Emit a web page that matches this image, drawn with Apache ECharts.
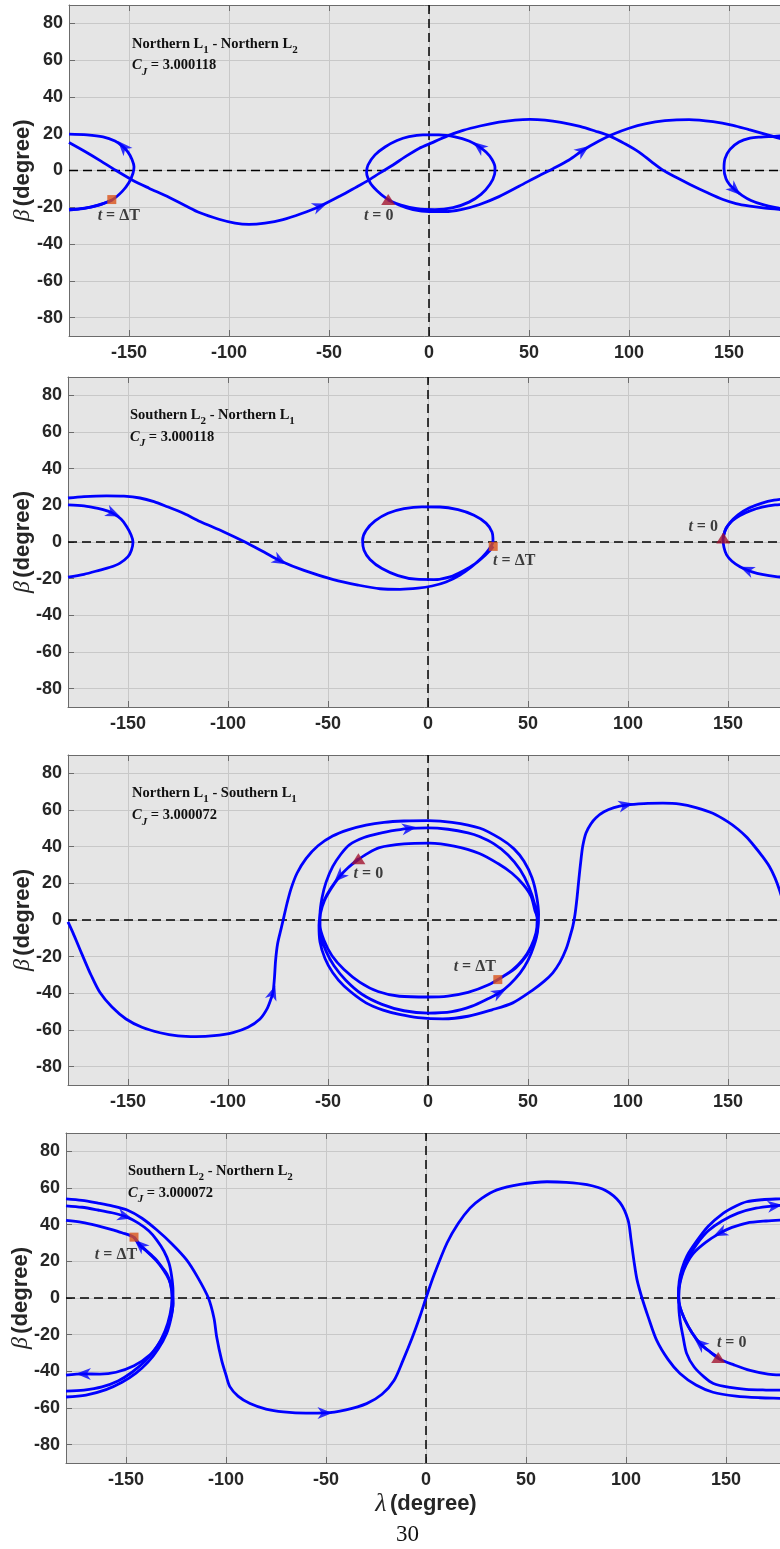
<!DOCTYPE html>
<html><head><meta charset="utf-8">
<script src="https://cdn.jsdelivr.net/npm/echarts@6/dist/echarts.min.js"></script>
<style>html,body{margin:0;padding:0;background:#fff}#c{width:780px;height:1549px}</style>
</head><body><div id="c"></div>
<script>
// ---------- tick labels ----------
const xTicks = [-150, -100, -50, 0, 50, 100, 150];
const yTicks = [-80, -60, -40, -20, 0, 20, 40, 60, 80];

// ---------- panel titles ----------
const titles = [
  ['Northern L', '1', ' - Northern L', '2', '3.000118'],
  ['Southern L', '2', ' - Northern L', '1', '3.000118'],
  ['Northern L', '1', ' - Southern L', '1', '3.000072'],
  ['Southern L', '2', ' - Northern L', '2', '3.000072']
];

// ---------- Panel 1 : trajectory pieces (lambda, beta) in travel order ----------
const p1A = [[-20.5,-16],[-14,-18.8],[-6,-20.8],[3,-21.3],[12,-20.2],[20,-17.2],[26,-13],[30.5,-7.5],[32.8,-2],[33,1.5],[31.5,6],[28.5,10],[25,13],[20,16],[13,18.3],[5,19.4],[-3,19.4],[-10,18.4],[-16,16.3],[-22,12.8],[-27,8.5],[-30.5,3],[-31.2,-1],[-29.5,-6.5],[-26,-11],[-21.5,-15],[-15,-18.8],[-8,-21.3],[0,-22.4],[8,-22.4],[16,-21.3],[25,-18.6],[35,-14.2],[45,-8.6],[55,-2.8],[62,1],[70,5.7],[77,11],[85,16],[92,19.7],[100,23],[108,25.4],[118,27.1],[130,27.7],[142,26.6],[152,24.6],[160,22.2],[168,19.8],[175.5,17.4],[180,15.5]];
const p1B = [[-180,15.2],[-172,10.3],[-164,5.1],[-158,1],[-148,-5.4],[-140,-9.6],[-131,-14],[-122,-19],[-114.5,-23],[-105,-26.5],[-97,-28.6],[-90,-29.3],[-82,-28.6],[-73,-26.7],[-64,-23.5],[-54.5,-19.4],[-44,-13.6],[-36,-8.8],[-31,-5.8],[-24.5,-1.3],[-18,3],[-12,7.4],[-5,12],[2,15.3],[9,18.7],[17,21.8],[25.5,24.2],[35,26.3],[43,27.4],[50.5,27.8],[58,27.4],[66,26.2],[75.5,24],[83,21.5],[90.5,18.7],[98,14.5],[105,10],[111,5],[117,0.2],[124,-4],[130.5,-7.6],[139,-12],[147,-15.8],[153.5,-18],[160.5,-19.4],[168,-20.5],[175.5,-21.2],[180,-21.5]];
const p1C = [[-180,-21.5],[-173,-20.7],[-166,-19],[-158.5,-16],[-153.5,-11.5],[-150,-6.5],[-148,-1.5],[-147.5,2],[-148.5,6],[-150.5,10],[-153,13],[-157,16],[-163,18.3],[-171,19.4],[-180,19.8]];
const p1D = [[180,19.2],[173,18.6],[166,18.2],[160.5,17.6],[155,15.5],[150.5,11.5],[148,6.5],[147.5,1],[148.5,-4.5],[150.5,-8],[153,-10.5],[156.5,-13.5],[161,-16.3],[167,-18.6],[173.5,-20.2],[180,-21.3]];
const p1E = [[-180,-21.2],[-172,-20.5],[-165,-18.8],[-158.5,-16]];
const p1Arrows = [['A',25,13],['A',77,11],['B',-54.5,-19.4],['C',-153,13],['D',153,-10.5]];
const p1Start = [-20.4,-15.8];
const p1End = [-158.6,-15.8];

// ---------- Panel 2 ----------
const p2A = [[147.6,2.2],[149,7.5],[152,11.5],[156,14.5],[161,17],[167,19],[173.5,20.2],[180,20.6]];
const p2B = [[-180,20.3],[-172,19.7],[-165,18.3],[-160,16.8],[-157.3,15.5],[-153.5,12.5],[-150.7,8.5],[-148.5,4],[-147.5,0],[-148.3,-4.5],[-150,-8],[-154,-11.5],[-159,-13.8],[-164,-15.3],[-172,-17.6],[-180,-19.1]];
const p2C = [[180,-19.3],[174,-18.9],[167,-17.7],[162,-16.3],[159.3,-15.1],[156,-13.5],[152,-10.5],[149.3,-7],[148,-3],[147.5,1.5],[148.5,6],[151,10.5],[155,14.8],[160.5,18.5],[167,21.2],[173,22.8],[180,23.8]];
const p2D = [[-180,24],[-172,24.8],[-160.7,25.2],[-152,25],[-144,24],[-137,22],[-130.7,19.4],[-122,15.5],[-114,11.2],[-102,5.5],[-91.5,0],[-82,-5.5],[-74,-10.2],[-62,-15.5],[-47.3,-20.5],[-35,-23.5],[-24,-25.5],[-14,-25.8],[-5,-25.2],[2,-24],[9,-21.8],[16,-18],[22,-13.3],[27,-8.5],[30.5,-4],[32.5,0.5],[32,5.5],[29,10.3],[23,14.6],[15,17.6],[6,19.1],[-3,19.2],[-12,18.2],[-20,15.7],[-26.5,11.5],[-31,6.3],[-32.7,1],[-32,-4.5],[-29,-9.5],[-23,-14.5],[-15,-18.3],[-6,-20.3],[3,-20.5],[11,-19],[18,-15.5],[24,-11.5],[28.5,-7.3],[31.5,-4],[32.6,-2.4]];
const p2Arrows = [['B',-157.3,15.5],['C',159.3,-15.1],['D',-74,-10.2]];
const p2Start = [147.6,2.2];
const p2End = [32.6,-2.4];

// ---------- Panel 3 ----------
const p3A = [[-34.8,33.4],[-40,28.5],[-44.3,23.7],[-48.5,17.5],[-51.8,11],[-53.8,4],[-54.3,-2],[-53.5,-9],[-51,-17],[-47,-25],[-41,-33],[-33,-40.5],[-23,-46],[-12,-49.5],[0,-50.8],[12,-50],[22,-47],[30,-43],[35.7,-39.7],[41,-35],[46,-29],[50,-22],[53,-14],[54.8,-6],[55,0],[53.5,5],[51.5,13],[47.5,19.5],[42,25.5],[35,30.8],[25.7,36.3],[13,40.3],[0.7,41.9],[-12,41.5],[-24.3,39.5],[-31,35.8],[-35,32.8],[-40,28.5],[-44.3,23.5],[-48.5,17],[-51.8,10.5],[-53.8,3.5],[-54.5,-3],[-54,-12],[-51.5,-21],[-47.6,-28.8],[-42,-36],[-31,-45.2],[-22,-49.3],[-14.3,-51.5],[-5,-53.2],[7.4,-53.9],[20,-52.5],[32,-49],[42.4,-45.2],[52,-38.5],[58,-33.5],[62.4,-28.8],[66,-23],[69,-16],[71,-9],[72.4,-3.5],[73.5,3],[74.5,12],[75.5,23],[76.5,33],[77.4,40.5],[79,47.5],[81.5,52.5],[84,55.8],[88,59],[93,61.3],[99,62.7],[108,63.5],[117.4,63.7],[126,63.2],[134,61.3],[142.4,58.2],[150,53.5],[155,49.5],[159,45.5],[163,40.5],[167,35],[170.7,29.2],[173.5,23],[175.7,16.5],[177.8,9],[179,4],[180,0]];
const p3B = [[-180,-1],[-177.5,-7],[-175,-13.5],[-172.5,-20],[-168.5,-30],[-164,-39.6],[-158,-47.5],[-151,-54],[-143,-58.5],[-134,-61.5],[-125,-63.2],[-116,-63.6],[-107,-63.1],[-97.5,-61.4],[-90,-58.5],[-84,-54],[-80.5,-48.5],[-78.5,-43],[-77.5,-39.6],[-76.8,-32],[-76.2,-22],[-75.2,-13],[-73.5,-5],[-72,2],[-70.5,9],[-68.5,17],[-65.5,25.5],[-61,33.5],[-55,40.5],[-47.7,45.8],[-40,49.2],[-31,51.8],[-22,53.3],[-12,54],[0,54.2],[12,53.3],[25.7,50.2],[36,44.5],[43,38.8],[48,32],[52,23],[54.3,13],[55.3,3],[54.8,-5],[53,-12],[49.5,-19],[44,-26],[38,-30.5],[30,-35.5],[20,-39.5],[10,-41.5],[0,-42],[-14.3,-41.6],[-25,-39],[-34,-34],[-42,-27],[-48,-19.5],[-52,-11],[-54,-3],[-54,3],[-53,12],[-51,20.5],[-47.6,29.2],[-43.5,36],[-39.3,41],[-32,45],[-24.3,47.3],[-16,49],[-9.3,50],[0,50.3],[10,49.5],[20,47.5],[25.7,45.5],[33,41.5],[40,35.5],[46,27.5],[50.5,18],[53.5,8],[54.6,0],[54,-7],[51.5,-14.5],[47.5,-21.5],[42,-27.5],[34.9,-32.5]];
const p3Arrows = [['A',-44.3,23.7],['A',35.7,-39.7],['A',99,62.7],['B',-77.5,-39.6],['B',-9.3,50]];
const p3Start = [-34.8,33.4];
const p3End = [34.9,-32.5];

// ---------- Panel 4 ----------
const p4A = [[146.1,-32.4],[141,-28.5],[137,-24.8],[133,-19],[129.5,-12],[127,-5],[126.3,1],[126.8,8],[128.5,15],[131.5,22.5],[135.5,29.5],[141,36.5],[148,42],[156,46.3],[165,49],[174.5,50.3],[180,50.7]];
const p4B = [[-180,50.3],[-172,49.5],[-164,48],[-157,46.5],[-150.5,44.5],[-144,41],[-138.5,36.5],[-134.7,31.7],[-131,25.5],[-128.5,19],[-127.2,12],[-126.5,4],[-126.5,-3],[-127.5,-10],[-129.7,-17],[-133,-24],[-138,-31],[-146,-37],[-155,-40.5],[-163,-41.5],[-171.3,-41.4],[-180,-42.1]];
const p4C = [[180,-42.1],[171,-41.5],[162,-39.5],[154,-36.5],[147,-33.4],[141,-28.5],[137,-24.8],[133,-19],[129.5,-12],[127,-5],[126.2,1],[126.6,9],[128,16],[130.5,23],[135.3,31],[141,39],[148.7,46.3],[155,50.2],[160.3,52.5],[168,53.6],[177,54.1],[180,54.2]];
const p4D = [[-180,54.1],[-172,53.3],[-164,51.8],[-157,50.3],[-149.7,48.1],[-142,43.5],[-134.7,37.2],[-127,29.5],[-119.7,20.8],[-114,11],[-108.8,0],[-106,-11],[-104.7,-21],[-102.2,-33.9],[-100,-42],[-98,-48.5],[-94,-53.5],[-88,-57.6],[-80,-60.6],[-71.3,-62.1],[-60,-62.8],[-50.5,-62.7],[-40,-61],[-29.7,-57.6],[-22,-52.5],[-16,-45],[-11.5,-34],[-7,-22],[-3,-10],[0,0],[4,12.5],[10.5,30],[16,40.5],[22,49],[28,54.5],[35.5,59],[47,62],[60.5,63.4],[70,63.1],[80.5,61.8],[90,58.5],[97,52],[101,42.6],[102.5,32],[104,20],[105.5,10],[108,0],[111,-10],[115.3,-23],[121,-33.5],[127,-41.2],[135,-47.5],[143.5,-51.4],[155,-53.5],[167,-54.4],[177,-54.7],[180,-54.8]];
const p4E = [[-180,-54],[-170,-53],[-160,-50],[-152,-46],[-145,-41],[-139,-35],[-134,-28],[-129.7,-19.3],[-127.5,-11],[-126.5,-3],[-127,4],[-128.5,10],[-131.3,15.3],[-135,20.5],[-140,25.8],[-143,28.5],[-146,33],[-152,35.6],[-158,37.6],[-165,39.6],[-172,41.2],[-180,42.3]];
const p4F = [[180,42.6],[170,42],[160.3,40.9],[153,38.5],[147,35.4],[140,30.5],[133.7,24.4],[130,18],[127.8,11.7],[126.5,4],[126.4,-4],[127,-12],[128.5,-21],[130.3,-30.2],[134,-37.5],[139,-43],[143.7,-46.6],[152,-48.8],[160,-49.8],[170,-50.2],[177,-50.3],[180,-50.4]];
const p4G = [[-180,-50.8],[-171,-50.2],[-162,-48.5],[-154,-45.3],[-147,-40.5],[-140,-34],[-134.5,-26.5],[-130.5,-18],[-128,-9],[-127,0],[-127.8,8],[-129.5,13],[-131.8,16.5],[-135.5,21.5],[-140,26],[-143,29],[-146,33.2]];
const p4Arrows = [['A',174.5,50.3],['B',-150.5,44.5],['B',-171.3,-41.4],['C',137,-24.8],['F',147,35.4],['D',-50.5,-62.7],['G',-143,29]];
const p4Start = [146.1,-32.4];
const p4End = [-146,33.2];

// ---------- layout ----------
const grids = [
  {left: 69, top: 5, width: 720, height: 331},
  {left: 68, top: 377, width: 720, height: 330},
  {left: 68, top: 755, width: 720, height: 330},
  {left: 66, top: 1133, width: 720, height: 330}
];
const panels = [
  {strands: {A: p1A, B: p1B, C: p1C, D: p1D, E: p1E}, arrows: p1Arrows, start: p1Start, end: p1End,
   startOff: [-9.5, 16], endOff: [7, 16], title: [132, 48.3, 70], nameGap: 34},
  {strands: {A: p2A, B: p2B, C: p2C, D: p2D}, arrows: p2Arrows, start: p2Start, end: p2End,
   startOff: [-20, -11], endOff: [21, 14], title: [130, 419.3, 441.7], nameGap: 33},
  {strands: {A: p3A, B: p3B}, arrows: p3Arrows, start: p3Start, end: p3End,
   startOff: [10, 15], endOff: [-23, -12.5], title: [132, 797.3, 820], nameGap: 33},
  {strands: {A: p4A, B: p4B, C: p4C, D: p4D, E: p4E, F: p4F, G: p4G}, arrows: p4Arrows, start: p4Start, end: p4End,
   startOff: [13.5, -15], endOff: [-18, 18], title: [128, 1175.7, 1197.3], nameGap: 33}
];

const SANS = '"Liberation Sans", Arial, Helvetica, sans-serif';
const SERIF = '"Liberation Serif", "Times New Roman", serif';
const AXC = '#6b6b6b';
const TXT = '#262626';
const ARROW = 'path://M14,6 L0,0 L4,6 L0,12 Z';

const xAxes = [], yAxes = [], series = [], graphics = [];
const mctx = document.createElement('canvas').getContext('2d');

// place a run of text pieces on one baseline; each piece: [text, font, fontSize, baselineShift]
function textRun(x0, baseline, pieces) {
  let x = x0;
  pieces.forEach(p => {
    mctx.font = p[1];
    const w = mctx.measureText(p[0]).width;
    graphics.push({type: 'text', x: x, y: baseline + p[3] - 0.3 * p[2], z: 10, silent: true,
      style: {text: p[0], font: p[1], fill: '#111', align: 'left', verticalAlign: 'middle'}});
    x += w;
  });
}

function arrowAngle(strand, ax, ay, g) {
  const sx = g.width / 360, sy = g.height / 180;
  let best = Infinity, ang = 0;
  for (let i = 0; i < strand.length - 1; i++) {
    const p = strand[i], q = strand[i + 1];
    const px = (p[0] - ax) * sx, py = (p[1] - ay) * sy;
    const qx = (q[0] - ax) * sx, qy = (q[1] - ay) * sy;
    const dx = qx - px, dy = qy - py;
    const L2 = dx * dx + dy * dy || 1;
    let t = -(px * dx + py * dy) / L2; t = Math.max(0, Math.min(1, t));
    const cx = px + t * dx, cy = py + t * dy;
    const d = cx * cx + cy * cy;
    if (d < best) { best = d; ang = Math.atan2(dy, dx) * 180 / Math.PI; }
  }
  return ang;
}

const FB = 'bold 14.5px "Liberation Serif"';
const FBI = 'italic bold 14.5px "Liberation Serif"';
const FS = 'bold 11px "Liberation Serif"';
const FSI = 'italic bold 11px "Liberation Serif"';

panels.forEach((P, k) => {
  const g = grids[k];
  xAxes.push({
    gridIndex: k, type: 'value', min: -180, max: 180, position: 'bottom',
    axisLine: {onZero: false, lineStyle: {color: AXC, width: 1}},
    axisTick: {inside: true, length: 6, customValues: xTicks, lineStyle: {color: AXC}},
    axisLabel: {customValues: xTicks, color: TXT, fontFamily: SANS, fontWeight: 'bold', fontSize: 18, margin: 8},
    splitLine: {show: true, lineStyle: {color: '#c8c8c8', width: 1}},
    name: k === 3 ? '{l|λ} {d|(degree)}' : '',
    nameLocation: 'middle', nameGap: 28,
    nameTextStyle: {rich: {
      l: {fontFamily: SERIF, fontStyle: 'italic', fontSize: 26, color: TXT},
      d: {fontFamily: SANS, fontWeight: 'bold', fontSize: 22, color: TXT}
    }}
  });
  xAxes.push({
    gridIndex: k, type: 'value', min: -180, max: 180, position: 'top',
    axisLine: {onZero: false, lineStyle: {color: AXC, width: 1}},
    axisTick: {inside: true, length: 6, customValues: xTicks, lineStyle: {color: AXC}},
    axisLabel: {show: false}, splitLine: {show: false}
  });
  yAxes.push({
    gridIndex: k, type: 'value', min: -90, max: 90,
    axisLine: {onZero: false, lineStyle: {color: AXC, width: 1}},
    axisTick: {inside: true, length: 6, customValues: yTicks, lineStyle: {color: AXC}},
    axisLabel: {customValues: yTicks, color: TXT, fontFamily: SANS, fontWeight: 'bold', fontSize: 18, margin: 6},
    splitLine: {show: true, lineStyle: {color: '#c8c8c8', width: 1}},
    name: '{b|β} {d|(degree)}', nameLocation: 'middle', nameGap: P.nameGap, nameRotate: 90, nameMoveOverlap: false,
    nameTextStyle: {rich: {
      b: {fontFamily: SERIF, fontStyle: 'italic', fontSize: 24, color: TXT},
      d: {fontFamily: SANS, fontWeight: 'bold', fontSize: 22, color: TXT}
    }}
  });
  const xi = 2 * k;
  // dashed zero lines
  series.push({type: 'line', xAxisIndex: xi, yAxisIndex: k, data: [[-180, 0], [180, 0]], symbol: 'none', silent: true, z: 2,
    lineStyle: {color: '#000', width: 1.5, type: [9, 5]}});
  series.push({type: 'line', xAxisIndex: xi, yAxisIndex: k, data: [[0, -90], [0, 90]], symbol: 'none', silent: true, z: 2,
    lineStyle: {color: '#000', width: 1.5, type: [9, 5]}});
  // trajectory pieces
  Object.keys(P.strands).forEach(key => {
    series.push({type: 'line', xAxisIndex: xi, yAxisIndex: k, data: P.strands[key], symbol: 'none', smooth: 0.3, z: 3,
      lineStyle: {color: '#0000ff', width: 2.8}});
  });
  // arrows
  series.push({type: 'scatter', xAxisIndex: xi, yAxisIndex: k, z: 4, silent: true,
    data: P.arrows.map(a => ({value: [a[1], a[2]], symbolRotate: arrowAngle(P.strands[a[0]], a[1], a[2], g)})),
    symbol: ARROW, symbolSize: [15, 12], itemStyle: {color: '#0000ff'}});
  // start / end markers
  const tl = (txt) => ({show: true, position: 'inside', formatter: '{i|t}{n| = ' + txt + '}',
    rich: {i: {fontFamily: SERIF, fontStyle: 'italic', fontWeight: 'bold', fontSize: 16, color: '#111'},
           n: {fontFamily: SERIF, fontWeight: 'bold', fontSize: 16, color: '#111'}}});
  series.push({type: 'scatter', xAxisIndex: xi, yAxisIndex: k, z: 5, silent: true,
    data: [P.start], symbol: 'triangle', symbolSize: [14, 11], itemStyle: {color: '#a2142f'},
    label: Object.assign(tl('0'), {offset: P.startOff})});
  series.push({type: 'scatter', xAxisIndex: xi, yAxisIndex: k, z: 5, silent: true,
    data: [P.end], symbol: 'rect', symbolSize: 9, itemStyle: {color: '#d95319'},
    label: Object.assign(tl('ΔT'), {offset: P.endOff})});
  // titles
  const T = titles[k];
  textRun(P.title[0], P.title[1], [[T[0], FB, 14.5, 0], [T[1], FS, 11, 5], [T[2], FB, 14.5, 0], [T[3], FS, 11, 5]]);
  textRun(P.title[0], P.title[2], [['C', FBI, 14.5, 0], ['J', FSI, 11, 5], [' = ' + T[4], FB, 14.5, 0]]);
});

graphics.push({type: 'text', x: 396, y: 1523, silent: true, style: {text: '30', font: '23px "Liberation Serif", serif', fill: '#111'}});

const chart = echarts.init(document.getElementById('c'), null, {renderer: 'canvas'});
chart.setOption({
  animation: false,
  backgroundColor: '#ffffff',
  grid: grids.map(g => Object.assign({show: true, backgroundColor: '#e5e5e5', borderWidth: 0, containLabel: false, outerBoundsMode: 'none'}, g)),
  xAxis: xAxes, yAxis: yAxes, series: series, graphic: graphics
});
</script></body></html>
